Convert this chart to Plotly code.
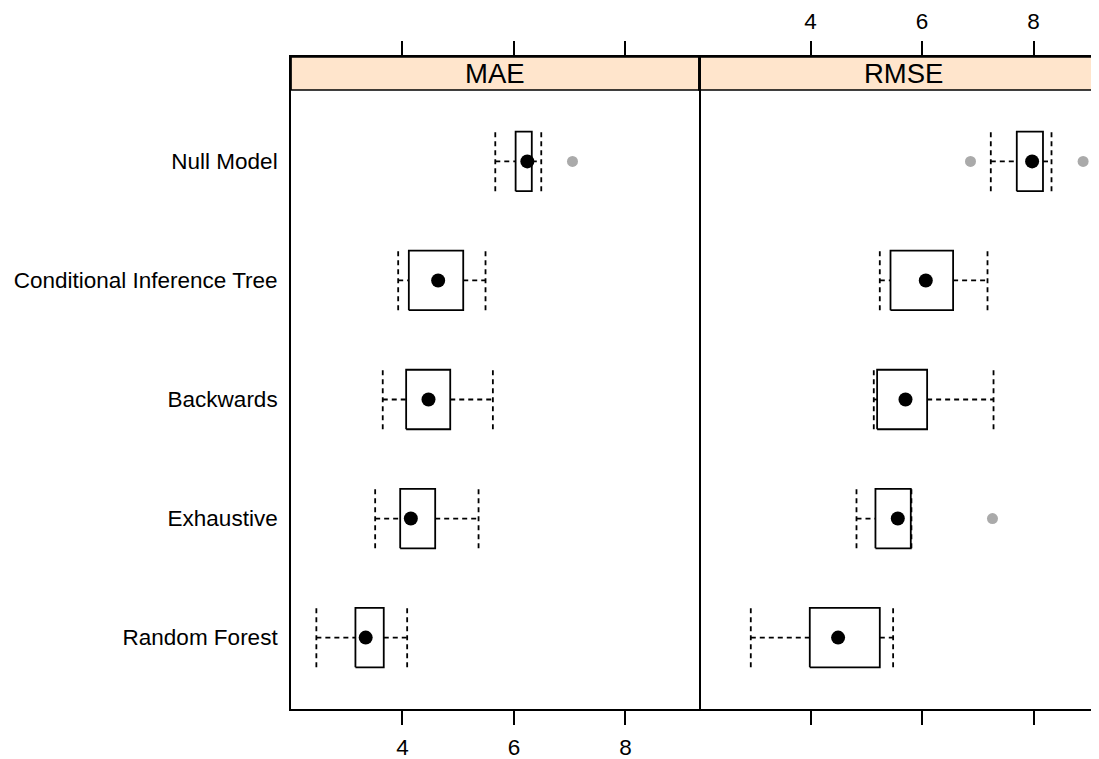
import plotly.graph_objects as go

# ---- data ----
categories = ["Random Forest", "Exhaustive", "Backwards",
              "Conditional Inference Tree", "Null Model"]
tick_vals_x = [4, 6, 8]

mae_lower = [2.455, 3.51, 3.646, 3.923, 5.665]
mae_q1 = [3.156, 3.959, 4.066, 4.114, 6.03]
mae_med = [3.34, 4.15, 4.467, 4.64, 6.24]
mae_q3 = [3.664, 4.587, 4.857, 5.09, 6.32]
mae_upper = [4.084, 5.365, 5.622, 5.49, 6.49]
mae_out_cat = ["Null Model"]
mae_out_val = [7.05]

rmse_lower = [2.929, 4.825, 5.135, 5.243, 7.234]
rmse_q1 = [3.987, 5.165, 5.195, 5.435, 7.70]
rmse_med = [4.495, 5.566, 5.704, 6.068, 7.975]
rmse_q3 = [5.243, 5.799, 6.092, 6.558, 8.17]
rmse_upper = [5.482, 5.81, 7.283, 7.175, 8.323]
rmse_out_cat = ["Null Model", "Null Model", "Exhaustive"]
rmse_out_val = [6.87, 8.89, 7.264]

panels = ["MAE", "RMSE"]

# ---- geometry / style ----
OFF = 8  # page body margin
W, H = 1099 - OFF, 759 - OFF
BOX_HALF = 0.25
STRIP_UNITS = 33 / 119.04
FONT = "Liberation Sans, Arial, sans-serif"
STRIP_FILL = "#FFE5CC"
PX_PER_UNIT = 55.75

fig = go.Figure()


def add_panel(xa, ya, lower, q1, med, q3, upper, out_cat, out_val):
    pos = {c: i + 1 for i, c in enumerate(categories)}
    bx, by, wx, wy = [], [], [], []
    for i, c in enumerate(categories):
        y = pos[c]
        bx += [q1[i], q3[i], q3[i], q1[i], q1[i], None]
        by += [y - BOX_HALF, y - BOX_HALF, y + BOX_HALF, y + BOX_HALF, y - BOX_HALF, None]
        wx += [lower[i], q1[i], None, q3[i], upper[i], None]
        wy += [y, y, None, y, y, None]
        wx += [lower[i], lower[i], None, upper[i], upper[i], None]
        wy += [y - BOX_HALF, y + BOX_HALF, None, y - BOX_HALF, y + BOX_HALF, None]
    fig.add_trace(go.Scatter(x=wx, y=wy, mode="lines", xaxis=xa, yaxis=ya,
                             line=dict(color="black", width=1.8, dash="5px,4px"),
                             hoverinfo="skip", showlegend=False))
    fig.add_trace(go.Scatter(x=bx, y=by, mode="lines", xaxis=xa, yaxis=ya,
                             line=dict(color="black", width=1.8),
                             hoverinfo="skip", showlegend=False))
    fig.add_trace(go.Scatter(x=med, y=[pos[c] for c in categories], mode="markers",
                             xaxis=xa, yaxis=ya,
                             marker=dict(color="black", size=14),
                             showlegend=False))
    fig.add_trace(go.Scatter(x=out_val, y=[pos[c] for c in out_cat], mode="markers",
                             xaxis=xa, yaxis=ya,
                             marker=dict(color="#AAAAAA", size=11),
                             showlegend=False))


add_panel("x", "y", mae_lower, mae_q1, mae_med, mae_q3, mae_upper, mae_out_cat, mae_out_val)
add_panel("x2", "y2", rmse_lower, rmse_q1, rmse_med, rmse_q3, rmse_upper, rmse_out_cat, rmse_out_val)

y_dom = [1 - (709 - OFF) / H, 1 - (57 - OFF) / H]
y_rng = [0.4, 5.6 + STRIP_UNITS]

common_x = dict(tickvals=tick_vals_x, ticks="outside", ticklen=14, tickwidth=1.6,
                tickcolor="black", showline=True, linecolor="black", linewidth=1.7,
                mirror="ticks", showgrid=False, zeroline=False, automargin=False,
                tickfont=dict(family=FONT, size=22.5, color="black"))
common_y = dict(range=y_rng, domain=y_dom, showgrid=False, zeroline=False,
                linecolor="black", linewidth=1.7, automargin=False)

fig.update_layout(
    width=W, height=H, template="none",
    margin=dict(l=0, r=0, t=0, b=0),
    paper_bgcolor="white", plot_bgcolor="white",
    xaxis=dict(domain=[(291 - OFF) / W, (699 - OFF) / W], range=[2.0, 9.32], anchor="y",
               side="bottom", ticklabelstandoff=3, **common_x),
    xaxis2=dict(domain=[(699 - OFF) / W, 1.0],
                range=[2.0, 2.0 + (1099 - 699) / PX_PER_UNIT], anchor="y2", side="top",
                ticklabelstandoff=3, **common_x),
    yaxis=dict(anchor="x", tickvals=list(range(1, len(categories) + 1)), ticktext=categories,
               ticks="", showline=True, mirror=True, ticklabelstandoff=7,
               tickfont=dict(family=FONT, size=22.5, color="black"), **common_y),
    yaxis2=dict(anchor="x2", showticklabels=False, ticks="", showline=False, mirror=False,
                **common_y),
)

for xa, name, x1 in zip(["x", "x2"], panels, [1.0, 1.05]):
    fig.add_shape(type="rect", xref=f"{xa} domain", yref=xa.replace("x", "y"),
                  x0=0, x1=x1, y0=5.6, y1=5.6 + STRIP_UNITS,
                  fillcolor=STRIP_FILL, line=dict(color="black", width=1.7), layer="below")
    fig.add_annotation(xref=f"{xa} domain", yref=xa.replace("x", "y"),
                       x=(408 / 400 / 2) if xa == "x2" else 0.5,
                       y=5.6 + STRIP_UNITS / 2, text=name, showarrow=False,
                       font=dict(family=FONT, size=27.5, color="black"))

fig.write_html("out.html")
